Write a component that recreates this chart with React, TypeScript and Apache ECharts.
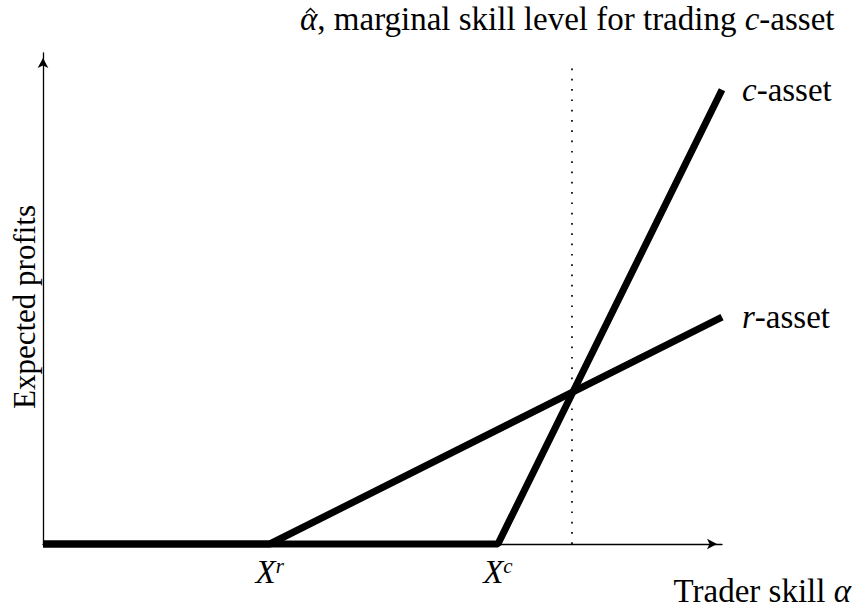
import React, { useEffect, useRef } from 'react';
import * as echarts from 'echarts';

// ---- data (abstract units: x 0..100, y 0..100) ----
const X_MAX = 100;
const Y_MAX = 100;
const xTickValues = [33.4, 67.0];
const xTickLabels = ['{x|X}{s|r}', '{x|X}{s|c}'];
const rAsset = [[0, 0], [33.4, 0], [100, 46.2]];
const cAsset = [[0, 0], [67.0, 0], [100, 92.5]];
const alphaHat = [[77.9, 0], [77.9, 98.2]];
const seriesLabels = ['{i|r}-asset', '{i|c}-asset'];
const titleText = '{i|\u03B1}, marginal skill level for trading {i|c}-asset';
const xAxisTitle = 'Trader skill {i|\u03B1}';
const yAxisTitle = 'Expected profits';

const FONT = 'Liberation Serif';
const FS = 33;
const TITLE_X = 300;

const richBase = {
  fontFamily: FONT,
  fontSize: FS,
  color: '#000',
};

export default function App() {
  const ref = useRef<HTMLDivElement>(null);
  useEffect(() => {
    if (!ref.current) return;
    const chart = echarts.init(ref.current, undefined, { renderer: 'svg' });
    const endLabel = (txt: string) => ({
      show: true,
      formatter: () => txt,
      distance: 20,
      color: '#000',
      fontFamily: FONT,
      fontSize: FS,
      rich: {
        i: { fontFamily: FONT, fontSize: FS, fontStyle: 'italic', color: '#000' },
      },
    });
    chart.setOption({
      animation: false,
      backgroundColor: '#ffffff',
      textStyle: { fontFamily: FONT },
      grid: { left: 43, right: 136, top: 53, bottom: 65, containLabel: false },
      xAxis: {
        type: 'value',
        min: 0,
        max: X_MAX,
        splitLine: { show: false },
        axisTick: { show: false },
        axisLine: {
          show: true,
          onZero: false,
          lineStyle: { color: '#000', width: 1.3 },
          symbol: ['none', 'arrow'],
          symbolSize: [8, 10],
          symbolOffset: [0, -5],
        },
        axisLabel: {
          show: true,
          customValues: xTickValues,
          formatter: (v: number) => {
            const i = xTickValues.findIndex((t) => Math.abs(t - v) < 1e-6);
            return i >= 0 ? xTickLabels[i] : '';
          },
          margin: 11,
          color: '#000',
          fontFamily: FONT,
          rich: {
            x: { ...richBase, fontStyle: 'italic', lineHeight: 34 },
            s: { ...richBase, fontSize: 21, fontStyle: 'italic', lineHeight: 20, verticalAlign: 'top' },
          },
        },
      },
      yAxis: {
        type: 'value',
        min: 0,
        max: Y_MAX,
        splitLine: { show: false },
        axisTick: { show: false },
        axisLabel: { show: false },
        axisLine: {
          show: true,
          onZero: false,
          lineStyle: { color: '#000', width: 1.3 },
          symbol: ['none', 'arrow'],
          symbolSize: [8, 10],
          symbolOffset: [0, -5],
        },
      },
      series: [
        {
          type: 'line',
          name: 'r-asset',
          data: rAsset,
          symbol: 'none',
          showSymbol: false,
          clip: false,
          lineStyle: { color: '#000', width: 7 },
          endLabel: endLabel(seriesLabels[0]),
          z: 3,
        },
        {
          type: 'line',
          name: 'c-asset',
          data: cAsset,
          symbol: 'none',
          showSymbol: false,
          clip: false,
          lineStyle: { color: '#000', width: 7 },
          endLabel: endLabel(seriesLabels[1]),
          z: 3,
        },
        {
          type: 'line',
          name: 'alpha-hat',
          data: alphaHat,
          symbol: 'none',
          showSymbol: false,
          clip: false,
          lineStyle: { color: '#000', width: 1.7, type: [1.7, 8.6] },
          z: 2,
        },
      ],
      graphic: [
        {
          type: 'text',
          x: TITLE_X,
          y: 19,
          style: {
            text: titleText,
            align: 'left',
            verticalAlign: 'middle',
            fill: '#000',
            fontFamily: FONT,
            fontSize: FS,
            rich: { i: { ...richBase, fontStyle: 'italic' } },
          },
        },
        {
          // circumflex accent over alpha
          type: 'polyline',
          shape: { points: [[TITLE_X + 6, 13], [TITLE_X + 10.5, 8.5], [TITLE_X + 15, 13]] },
          style: { stroke: '#000', lineWidth: 1.4, fill: 'none' },
        },
        {
          type: 'text',
          x: 851,
          y: 591,
          style: {
            text: xAxisTitle,
            align: 'right',
            verticalAlign: 'middle',
            fill: '#000',
            fontFamily: FONT,
            fontSize: FS,
            rich: { i: { ...richBase, fontStyle: 'italic' } },
          },
        },
        {
          type: 'text',
          x: 24,
          y: 307,
          rotation: Math.PI / 2,
          style: {
            text: yAxisTitle,
            align: 'center',
            verticalAlign: 'middle',
            fill: '#000',
            fontFamily: FONT,
            fontSize: 31,
          },
        },
      ],
    });
    return () => chart.dispose();
  }, []);
  return (
    <div
      ref={ref}
      style={{ position: 'absolute', left: 0, top: 0, width: 858, height: 609, background: '#fff' }}
    />
  );
}
